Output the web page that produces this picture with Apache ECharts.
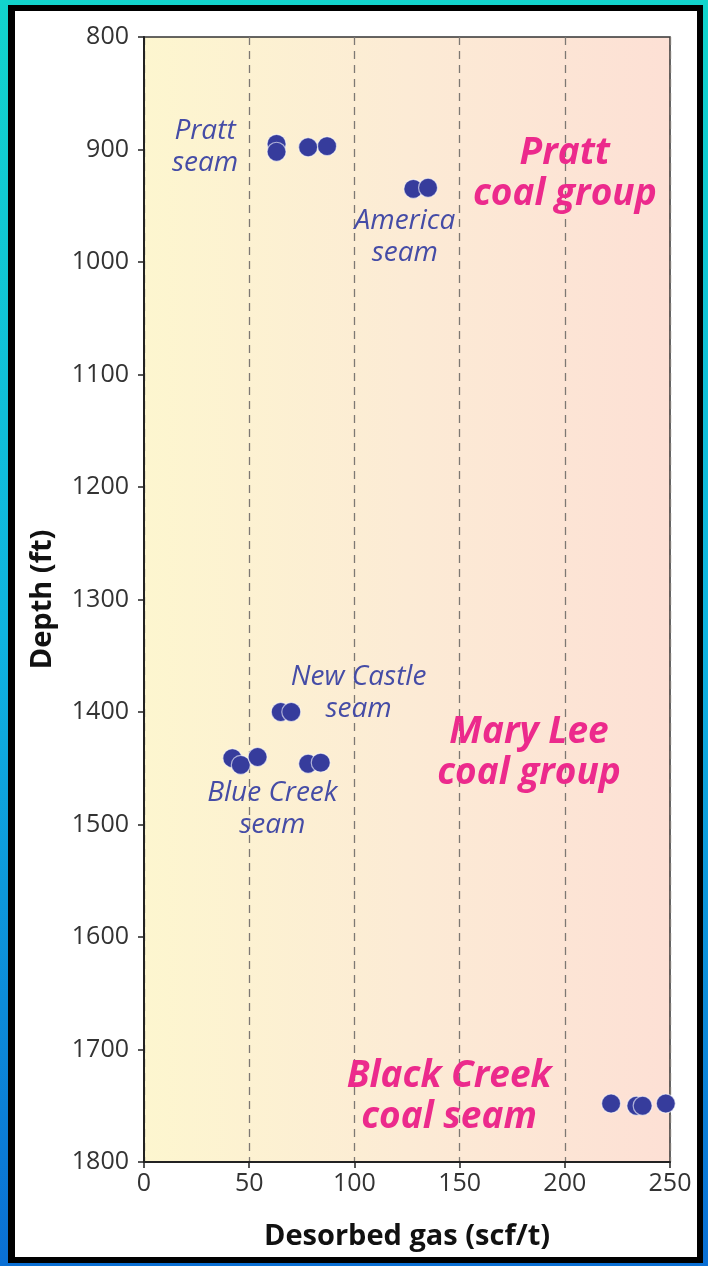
<!DOCTYPE html>
<html>
<head>
<meta charset="utf-8">
<script src="https://cdn.jsdelivr.net/npm/echarts@6/dist/echarts.min.js"></script>
<style>
  html, body { margin: 0; padding: 0; }
  body {
    width: 708px; height: 1266px; overflow: hidden;
    background: linear-gradient(to bottom, #12d4cc 0%, #0fb4e0 50%, #0a6fd4 100%);
    position: relative;
  }
  #frame {
    position: absolute; left: 8px; top: 5px;
    width: 682px; height: 1246px;
    background: #fff;
    border: 6px solid #000; border-left-width: 7px;
  }
  #main { position: absolute; left: 0; top: 0; width: 708px; height: 1266px; }
</style>
</head>
<body>
<div id="frame"></div>
<div id="main"></div>
<script>
// desorbed gas (scf/t), depth (ft)
var prattSeam = [[63, 895], [63, 902], [78, 898], [87, 897]]
var americaSeam = [[128, 935], [135, 934]]
var newCastleSeam = [[65, 1400], [70, 1400]]
var blueCreekSeam = [[42, 1441], [46, 1447], [54, 1440], [78, 1446], [84, 1445]]
var blackCreekSeam = [[222, 1748], [234, 1750], [237, 1750], [248, 1748]]

var xTicks = [0, 50, 100, 150, 200, 250]
var yTicks = [800, 900, 1000, 1100, 1200, 1300, 1400, 1500, 1600, 1700, 1800]

// labels inside the plot (x, depth, text)
var seamNotes = [
  [29, 898, 'Pratt\nseam'],
  [124, 978, 'America\nseam'],
  [102, 1383, 'New Castle\nseam'],
  [61, 1486, 'Blue Creek\nseam']
]
var groupNotes = [
  [200, 922, 'Pratt\ncoal group'],
  [183, 1436, 'Mary Lee\ncoal group'],
  [145, 1742, 'Black Creek\ncoal seam']
]

var myChart = echarts.init(document.getElementById('main'))

function seamSeries (name, data) {
  return {
    name: name,
    type: 'scatter',
    data: data,
    symbolSize: 19,
    itemStyle: {
      color: '#363c9c',
      opacity: 1,
      borderColor: 'rgba(255,255,255,0.6)',
      borderWidth: 1.2
    },
    z: 3
  }
}
function noteSeries (notes, textStyle) {
  return {
    type: 'scatter',
    silent: true,
    symbolSize: 0,
    itemStyle: { opacity: 1 },
    data: notes.map(function (n) { return { value: [n[0], n[1]], name: n[2] } }),
    label: Object.assign({
      show: true,
      position: 'inside',
      formatter: function (p) { return p.name },
      align: 'center',
      verticalAlign: 'middle',
      fontStyle: 'italic'
    }, textStyle),
    z: 4
  }
}

var option = {
  backgroundColor: 'transparent',
  animation: false,
  textStyle: { fontFamily: 'Open Sans' },
  grid: {
    left: 144, top: 37, width: 526, height: 1125,
    show: true,
    borderColor: '#333',
    borderWidth: 1.5,
    backgroundColor: new echarts.graphic.LinearGradient(0, 0, 1, 0, [
      { offset: 0, color: '#fdf6cf' },
      { offset: 0.5, color: '#fcebd5' },
      { offset: 1, color: '#fde0d5' }
    ])
  },
  xAxis: {
    type: 'value',
    min: xTicks[0], max: xTicks[xTicks.length - 1], interval: 50,
    name: 'Desorbed gas (scf/t)',
    nameLocation: 'middle',
    nameGap: 60,
    nameTextStyle: { fontSize: 29, fontWeight: 'bold', color: '#111', fontFamily: 'Open Sans' },
    axisLine: { show: true, lineStyle: { color: '#222', width: 2 } },
    axisTick: { show: true, length: 6, lineStyle: { color: '#222', width: 1.5 } },
    axisLabel: { fontSize: 25, color: '#333', margin: 9 },
    splitLine: { show: true, lineStyle: { color: '#7d7873', width: 1.3, type: [8, 6] } }
  },
  yAxis: {
    type: 'value',
    inverse: true,
    min: yTicks[0], max: yTicks[yTicks.length - 1], interval: 100,
    name: 'Depth (ft)',
    nameLocation: 'middle',
    nameRotate: 90,
    nameGap: 87,
    nameTextStyle: { fontSize: 29, fontWeight: 'bold', color: '#111', fontFamily: 'Open Sans' },
    axisLine: { show: true, lineStyle: { color: '#222', width: 2 } },
    axisTick: { show: true, length: 6, lineStyle: { color: '#222', width: 1.5 } },
    axisLabel: { fontSize: 25, color: '#333', margin: 15, formatter: function (v) { return String(v) } },
    splitLine: { show: false }
  },
  series: [
    seamSeries('Pratt seam', prattSeam),
    seamSeries('America seam', americaSeam),
    seamSeries('New Castle seam', newCastleSeam),
    seamSeries('Blue Creek seam', blueCreekSeam),
    seamSeries('Black Creek coal seam', blackCreekSeam),
    noteSeries(seamNotes, { color: '#454ca6', fontSize: 28, lineHeight: 32 }),
    noteSeries(groupNotes, { color: '#ec2a8c', fontSize: 37, fontWeight: 'bold', lineHeight: 41 })
  ]
}
myChart.setOption(option)
</script>
</body>
</html>
